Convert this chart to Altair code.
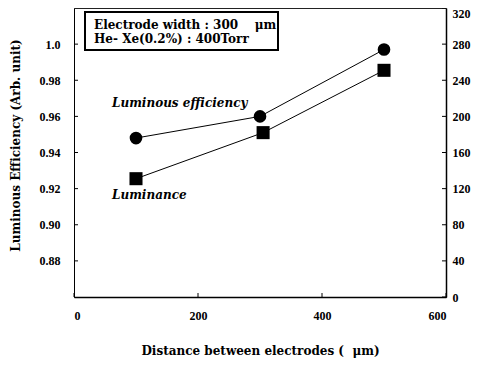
import altair as alt
import pandas as pd

# Data
distance_eff = [100, 300, 500]
efficiency = [0.948, 0.960, 0.997]
distance_lum = [100, 305, 500]
luminance = [131, 182, 251]

x_ticks = [0, 200, 400, 600]
left_ticks = [0.88, 0.90, 0.92, 0.94, 0.96, 0.98, 1.0]
right_ticks = [0, 40, 80, 120, 160, 200, 240, 280, 320]

box_lines = ["Electrode width : 300\u00a0\u00a0\u00a0\u00a0\u03bcm", "He- Xe(0.2%) : 400Torr"]
series_labels = ["Luminous efficiency", "Luminance"]

W, H = 372, 289
FONT = "Times New Roman, Liberation Serif, DejaVu Serif, serif"
WIDE = "DejaVu Serif, serif"

eff_df = pd.DataFrame({"x": distance_eff, "eff": efficiency})
lum_df = pd.DataFrame({"x": distance_lum, "lum": luminance})

x_enc = alt.X(
    "x:Q",
    scale=alt.Scale(domain=[0, 600], nice=False, zero=False),
    axis=alt.Axis(
        values=x_ticks, title="Distance between electrodes (\u00a0\u00a0\u03bcm)", grid=False,
        tickSize=0, labelPadding=13, titlePadding=24, domainColor="black",
        domainWidth=1.5, labelFont=FONT, labelFontSize=12, labelFontWeight="bold",
        titleFont=WIDE, titleFontSize=12, titleFontWeight="bold", labelColor="black",
        titleColor="black", format="d",
    ),
)

y_left = alt.Y(
    "eff:Q",
    scale=alt.Scale(domain=[0.86, 1.02], nice=False, zero=False),
    axis=alt.Axis(
        values=left_ticks, title="Luminous Efficiency (Arb. unit)", grid=False,
        tickSize=0, labelPadding=14, titlePadding=17, titleY=137, domainColor="black",
        labelExpr="datum.value == 1 ? '1.0' : format(datum.value, '.2f')",
        labelFont=FONT, labelFontSize=12, labelFontWeight="bold",
        titleFont=WIDE, titleFontSize=12, titleFontWeight="bold",
        labelColor="black", titleColor="black",
    ),
)

y_right = alt.Y(
    "lum:Q",
    scale=alt.Scale(domain=[0, 320], nice=False, zero=True),
    axis=alt.Axis(
        orient="right", values=right_ticks, title=None, grid=False, tickSize=0,
        labelPadding=6, domainColor="black", domainWidth=1.5, labelFont=FONT,
        labelFontSize=12, labelFontWeight="bold", labelColor="black", format="d",
        labelBaseline={"condition": {"test": "datum.value == 320", "value": "top"},
                       "value": "middle"},
    ),
)

eff_line = alt.Chart(eff_df).mark_line(color="black", strokeWidth=1).encode(x=x_enc, y=y_left)
eff_pts = alt.Chart(eff_df).mark_point(
    shape="circle", filled=True, color="black", size=160, opacity=1
).encode(x=x_enc, y=y_left)

left_tick_df = pd.DataFrame({"eff": left_ticks})
left_tick_marks = alt.Chart(left_tick_df).mark_rule(color="black", strokeWidth=1).encode(
    y=y_left, x=alt.value(0), x2=alt.value(4)
)

x_tick_df = pd.DataFrame({"x": x_ticks})
x_tick_marks = alt.Chart(x_tick_df).mark_rule(color="black", strokeWidth=1).encode(
    x=x_enc, y=alt.value(H), y2=alt.value(H - 4)
)

box = alt.Chart(pd.DataFrame({"k": [0]})).mark_rect(
    fill="white", stroke="black", strokeWidth=2
).encode(x=alt.value(11), x2=alt.value(204), y=alt.value(4), y2=alt.value(42))

box_text1 = alt.Chart(pd.DataFrame({"t": [box_lines[0]]})).mark_text(
    align="left", baseline="middle", font=WIDE, fontSize=12, fontWeight="bold", color="black"
).encode(text="t:N", x=alt.value(20), y=alt.value(17))
box_text2 = alt.Chart(pd.DataFrame({"t": [box_lines[1]]})).mark_text(
    align="left", baseline="middle", font=WIDE, fontSize=12, fontWeight="bold", color="black"
).encode(text="t:N", x=alt.value(20), y=alt.value(31))

lab1 = alt.Chart(pd.DataFrame({"t": [series_labels[0]]})).mark_text(
    align="left", baseline="middle", font=WIDE, fontSize=12, fontWeight="bold",
    fontStyle="italic", color="black"
).encode(text="t:N", x=alt.value(38), y=alt.value(95))
lab2 = alt.Chart(pd.DataFrame({"t": [series_labels[1]]})).mark_text(
    align="left", baseline="middle", font=WIDE, fontSize=12, fontWeight="bold",
    fontStyle="italic", color="black"
).encode(text="t:N", x=alt.value(38), y=alt.value(187))

lum_line = alt.Chart(lum_df).mark_line(color="black", strokeWidth=1).encode(x=x_enc, y=y_right)
lum_pts = alt.Chart(lum_df).mark_point(
    shape="square", filled=True, color="black", size=170, opacity=1
).encode(x=x_enc, y=y_right)

right_tick_df = pd.DataFrame({"lum": right_ticks})
right_tick_marks = alt.Chart(right_tick_df).mark_rule(color="black", strokeWidth=1).encode(
    y=y_right, x=alt.value(W), x2=alt.value(W - 4)
)

left_group = alt.layer(
    eff_line, eff_pts, left_tick_marks, x_tick_marks, box, box_text1, box_text2, lab1, lab2
)
right_group = alt.layer(lum_line, lum_pts, right_tick_marks)

chart = (
    alt.layer(left_group, right_group)
    .resolve_scale(y="independent")
    .properties(
        width=W, height=H,
        autosize=alt.AutoSizeParams(type="none"),
        padding={"left": 66, "top": 0, "right": 31, "bottom": 62},
        background="white",
    )
    .configure_view(stroke="#222", strokeWidth=1)
)

chart.save("out.html", embed_options={"renderer": "svg", "actions": False})
